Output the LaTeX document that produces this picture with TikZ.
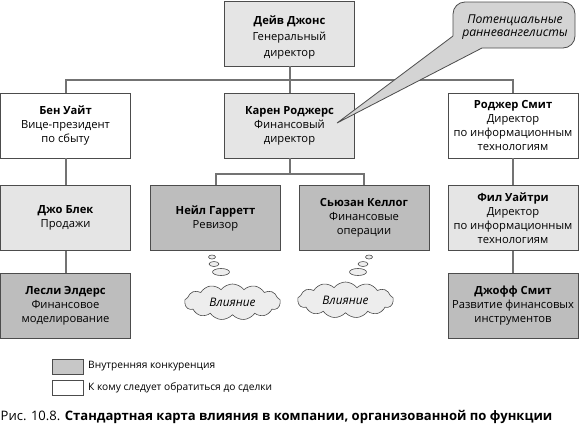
\documentclass[tikz,border=0pt]{standalone}
\usepackage{fontspec}
\setmainfont{Open Sans}
\usetikzlibrary{shapes.symbols,shapes.geometric}
\definecolor{lightfill}{gray}{0.9}
\definecolor{darkfill}{gray}{0.74}
\definecolor{bubblefill}{gray}{0.83}
\definecolor{cloudfill}{gray}{0.93}
\definecolor{legendfill}{gray}{0.78}
\definecolor{boxline}{gray}{0.3}
\definecolor{connline}{gray}{0.45}
\tikzset{
  orgbox/.style={draw=boxline, line width=0.8pt, minimum width=130pt, minimum height=65pt,
    inner sep=0pt, align=center, font=\fontsize{11.2}{14}\selectfont},
  lightbox/.style={orgbox, fill=lightfill},
  darkbox/.style={orgbox, fill=darkfill},
  whitebox/.style={orgbox, fill=white},
  conn/.style={draw=connline, line width=2pt},
  bubbleline/.style={draw=boxline, line width=0.8pt},
  thought/.style={cloud, cloud puffs=13, cloud puff arc=105, aspect=2.6, draw=boxline,
    line width=0.6pt, fill=cloudfill, minimum width=96pt, minimum height=36pt, inner sep=0pt,
    font=\fontsize{11.8}{12}\selectfont\itshape},
  puff/.style={ellipse, draw=boxline, line width=0.6pt, fill=cloudfill, inner sep=0pt},
  legendbox/.style={draw=boxline, line width=0.8pt, minimum width=31pt, minimum height=15pt, inner sep=0pt},
  legendtext/.style={anchor=west, inner sep=0pt, font=\fontsize{10.2}{11}\selectfont},
}
\begin{document}
\begin{tikzpicture}[x=1pt,y=-1pt]
\useasboundingbox (0,0) rectangle (580,426);
% row 1
\node[lightbox, minimum height=65pt, font=\fontsize{11.2}{16}\selectfont] (A) at (289.5,33.5)
  {\rule{0pt}{17pt}\textbf{Дейв Джонс}\\Генеральный\\директор};
% row 2
\node[whitebox] (B) at (65.5,125.5) {\textbf{Бен Уайт}\\Вице-президент\\по сбыту};
\node[lightbox] (C) at (289.5,125.5) {\textbf{Карен Роджерс}\\Финансовый\\директор};
\node[whitebox] (D) at (513,125.5) {\textbf{Роджер Смит}\\Директор\\по информационным\\технологиям};
% row 3
\node[lightbox] (E) at (65.5,218) {\textbf{Джо Блек}\\Продажи};
\node[darkbox] (F) at (215.5,218) {\textbf{Нейл Гарретт}\\Ревизор};
\node[darkbox] (G) at (364,218) {\textbf{Сьюзан Келлог}\\Финансовые\\операции};
\node[lightbox] (H) at (513,218) {\textbf{Фил Уайтри}\\Директор\\по информационным\\технологиям};
% row 4
\node[darkbox] (I) at (65.5,306) {\textbf{Лесли Элдерс}\\Финансовое\\моделирование};
\node[darkbox] (J) at (513,306) {\textbf{Джофф Смит}\\Развитие финансовых\\инструментов};
% connectors
\coordinate (bus1) at (289.5,80);
\coordinate (bus2) at (289.5,174);
\draw[conn] (A.south) -- (C.north);
\draw[conn] (B.north) |- (bus1) -| (D.north);
\draw[conn] (C.south) -- (bus2);
\draw[conn] (F.north) |- (bus2) -| (G.north);
\draw[conn] (B.south) -- (E.north);
\draw[conn] (E.south) -- (I.north);
\draw[conn] (D.south) -- (H.north);
\draw[conn] (H.south) -- (J.north);
% speech bubble (shape drawn directly, text node on top)
\coordinate (tip) at (337,123);
\coordinate (p1) at (453,36);
\coordinate (p2) at (482,48);
\draw[bubbleline, fill=bubblefill, rounded corners=12pt] (453,2) rectangle (575,48);
\fill[bubblefill] (tip) -- (p1) -- (459,34) -- (470,40) -- (482,46.5) -- (p2) -- cycle;
\draw[bubbleline] (p1) -- (tip) -- (p2);
\node[inner sep=0pt, align=center, font=\fontsize{12.2}{13}\selectfont\itshape]
  (bubble) at (515,27.5) {Потенциальные\\ранневангелисты};
% thought clouds
\node[thought] (cl1) at (232.5,302) {Влияние};
\node[thought] (cl2) at (345.5,300) {Влияние};
\node[puff, minimum width=17pt, minimum height=7pt] (f3) at (221,272) {};
\node[puff, minimum width=10pt, minimum height=5pt] (f2) at (214,264) {};
\node[puff, minimum width=7pt, minimum height=4pt] (f1) at (212,257) {};
\node[puff, minimum width=17pt, minimum height=7pt] (g3) at (358,272) {};
\node[puff, minimum width=10pt, minimum height=5pt] (g2) at (363,264) {};
\node[puff, minimum width=7pt, minimum height=4pt] (g1) at (369,257) {};
% legend
\node[legendbox, fill=legendfill] (L1) at (67.5,366.5) {};
\node[legendbox, fill=white] (L2) at (67.5,387.5) {};
\node[legendtext] (T1) at (88,366.5) {Внутренняя конкуренция};
\node[legendtext] (T2) at (88,387.5) {К кому следует обратиться до сделки};
% caption
\node[anchor=west, inner sep=0pt, font=\fontsize{13.05}{16}\selectfont] (cap) at (0.5,417)
  {Рис. 10.8. \textbf{Стандартная карта влияния в компании, организованной по функции}};
\end{tikzpicture}
\end{document}
